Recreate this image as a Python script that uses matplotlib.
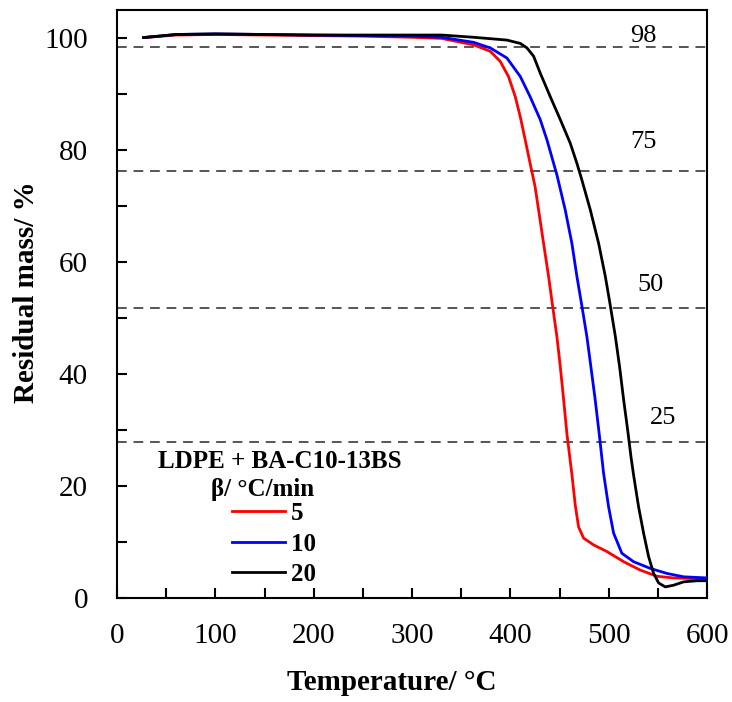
import numpy as np
import matplotlib
matplotlib.use('Agg')
import matplotlib.pyplot as plt
from matplotlib.ticker import MultipleLocator

plt.rcParams['font.family'] = ['Liberation Serif', 'DejaVu Serif']

# LDPE + BA-C10-13BS, residual mass (%) vs temperature (C), three heating rates
t5 = [27, 60, 100, 150, 200, 250, 300, 330, 362.5, 379.5, 389.6, 398, 404.9, 410, 415, 420, 425,
      428.6, 433.7, 438.8, 442.2, 447.3, 450.7, 454.1, 457.5, 462.5, 465.9, 469.3, 474.4,
      484.5, 498.2, 515.1, 532, 549, 565.9, 582.9, 600]
m5 = [100.05, 100.5, 100.6, 100.5, 100.4, 100.3, 100.1, 99.9, 98.75, 97.6, 95.8, 93.1, 89.5, 85.9, 81.8, 77.6, 73.5,
      69.3, 63.3, 57.4, 53.0, 46.6, 41.3, 35.4, 29.2, 22.1, 16.6, 12.7, 10.7,
      9.5, 8.3, 6.5, 5.0, 3.9, 3.6, 3.5, 3.5]

t10 = [27, 60, 100, 150, 200, 250, 300, 330, 362.5, 379.5, 396.4, 410, 420, 430.3, 437.1, 443.9, 447.3,
       455.7, 462.5, 467.6, 472.5, 477.8, 481.8, 486.2, 490.6, 494.7, 499.8, 504.9, 513.3, 525.2,
       542.2, 559.2, 576.1, 600]
m10 = [100.05, 100.6, 100.7, 100.6, 100.5, 100.4, 100.3, 100.1, 99.2, 98.2, 96.4, 93.1, 89.5, 85.4, 81.8, 77.6, 75.5,
       69.3, 63.3, 57.4, 52.3, 46.6, 41.3, 35.4, 28.8, 22.3, 16.3, 11.6, 8.0, 6.5,
       5.3, 4.4, 3.8, 3.6]

t20 = [27, 60, 100, 150, 200, 250, 300, 330, 362.5, 396.4, 410, 416.8, 423.6, 430.3, 440.5, 450.7, 460.8,
       467.6, 472.7, 481.2, 489.7, 496.5, 500.8, 506.6, 511, 515.1, 519.2, 522.6, 525.2, 530.3,
       535.4, 540.5, 545.6, 550.7, 557.5, 565.9, 576.1, 589.7, 600]
m20 = [100.05, 100.6, 100.7, 100.6, 100.5, 100.5, 100.5, 100.5, 100.1, 99.6, 99.0, 98.2, 96.7, 93.7, 89.5, 85.4, 81.2,
       77.6, 74.6, 69.3, 63.3, 57.4, 53.0, 46.8, 41.3, 35.4, 30.0, 25.2, 22.0, 16.3,
       11.6, 7.4, 4.4, 2.7, 2.0, 2.3, 2.9, 3.1, 3.1]

rates = ['5', '10', '20']
colors = ['red', 'blue', 'black']

ref_levels = [98.4, 76.2, 51.8, 27.9]
ref_labels = ['98', '75', '50', '25']
label_x = [535, 535, 542, 555]
label_y = [100.3, 81.4, 55.9, 32.1]


def Main():
    fig = plt.figure(figsize=(7.32, 7.02), dpi=100)
    ax = fig.add_axes([0.160, 0.148, 0.806, 0.838])

    for lvl in ref_levels:
        ax.plot([0, 600], [lvl, lvl], color='#555555', lw=1.4, ls=(0, (5, 3.5)), zorder=1)
    for s, x, y in zip(ref_labels, label_x, label_y):
        ax.text(x, y, s, fontsize=19, ha='center', va='center')

    for t, m, r, c in zip([t5, t10, t20], [m5, m10, m20], rates, colors):
        ax.plot(t, m, color=c, lw=2, label=r, zorder=3, solid_joinstyle='round')

    ax.set_xlim(0, 600)
    ax.set_ylim(0, 105)
    ax.xaxis.set_major_locator(MultipleLocator(100))
    ax.xaxis.set_minor_locator(MultipleLocator(50))
    ax.yaxis.set_major_locator(MultipleLocator(20))
    ax.yaxis.set_minor_locator(MultipleLocator(10))
    ax.tick_params(which='both', direction='in', width=1.5, length=7, labelsize=21)
    ax.tick_params(axis='x', which='both', pad=18)
    ax.tick_params(axis='y', which='both', pad=21)
    for sp in ax.spines.values():
        sp.set_linewidth(1.5)

    ax.set_xlabel('Temperature/ °C', fontsize=21, fontweight='bold')
    ax.set_ylabel('Residual mass/ %', fontsize=21, fontweight='bold')
    ax.xaxis.set_label_coords(0.466, -0.12)
    ax.yaxis.set_label_coords(-0.13, 0.52)

    ax.text(165, 24.3, 'LDPE + BA-C10-13BS', fontsize=18, fontweight='bold', ha='center', va='center')
    ax.text(147.5, 19.3, 'β/ °C/min', fontsize=18, fontweight='bold', ha='center', va='center')
    ax.legend(loc='upper left', bbox_to_anchor=(0.195, 0.163), frameon=False,
              prop={'weight': 'bold', 'size': 18}, handlelength=2.1, handletextpad=0.25,
              labelspacing=0.3, borderpad=0, borderaxespad=0)

    fig.savefig('out.png', dpi=100)


if __name__ == '__main__':
    Main()
